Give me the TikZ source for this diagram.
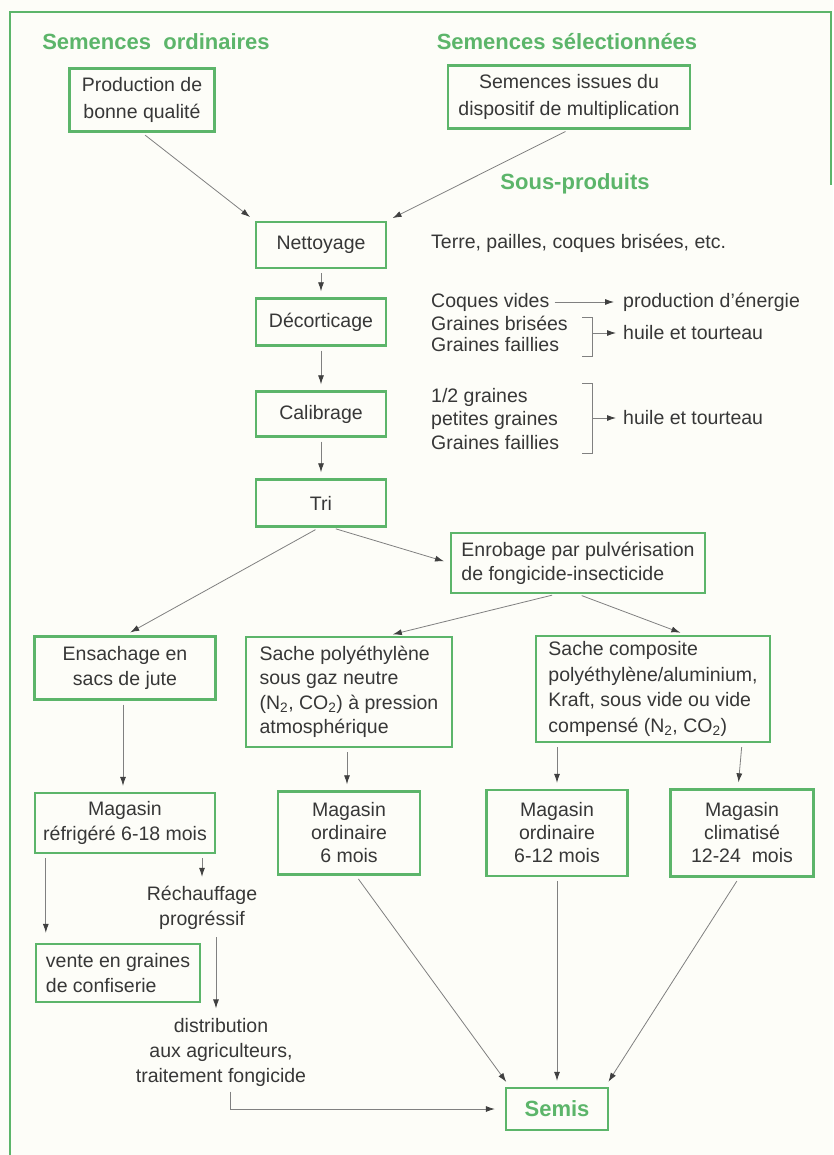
\documentclass[tikz,border=0pt]{standalone}
\usepackage{fontspec}
\setmainfont{Liberation Sans}
\usepackage{xcolor}
\usetikzlibrary{arrows.meta, positioning}

\definecolor{leaf}{RGB}{92,181,106}
\definecolor{ink}{RGB}{55,55,55}
\definecolor{paper}{RGB}{253,253,248}

\begin{document}
\begin{tikzpicture}[
  x=1pt, y=-1pt,
  font=\fontsize{19.5}{23}\selectfont, text=ink,
  box/.style={draw=leaf, line width=2.4pt, inner sep=0pt, align=center},
  title/.style={text=leaf, font=\fontsize{22}{26}\selectfont\bfseries},
  list/.style={anchor=west, align=left, inner sep=1pt},
  edge/.style={-{Latex[length=9pt,width=6pt,color=black!75]}, gray, line width=0.8pt,
    shorten <=4pt, shorten >=6pt},
  brace/.style={gray, line width=0.8pt}
]
% page and frame
\fill[paper] (0,0) rectangle (833,1155);
\useasboundingbox (0,0) rectangle (833,1155);
\draw[leaf, line width=2pt] (831,185) -- (831,12) -- (10,12) -- (10,1155);

% titles
\node[title] (ord) at (156,42) {Semences\ \ ordinaires};
\node[title] (sel) at (567,42) {Semences sélectionnées};
\node[title] (sous) at (575,184) {Sous-produits};

% seed sources
\node[box, minimum width=145pt, minimum height=63pt,
  font=\fontsize{19.5}{27}\selectfont] (prod) at (142,100) {Production de\\bonne qualité};
\node[box, minimum width=242pt, minimum height=63pt,
  font=\fontsize{19.5}{27}\selectfont] (mult) at (569,97) {Semences issues du\\dispositif de multiplication};

% main chain
\node[box, minimum width=130pt, minimum height=46pt] (nett) at (321,245) {Nettoyage};
\node[box, minimum width=130pt, minimum height=47pt] (deco) at (321,322) {Décorticage};
\node[box, minimum width=130pt, minimum height=45pt] (cali) at (321,414) {Calibrage};
\node[box, minimum width=130pt, minimum height=47pt] (tri) at (321,503) {Tri};

% by-products
\node[list] (terre) at (430,243) {Terre, pailles, coques brisées, etc.};
\node[list] (coq) at (430,302) {Coques vides};
\node[list] (ener) at (622,302) {production d'énergie};
\node[list, font=\fontsize{19.5}{21.5}\selectfont] (gra) at (430,334) {Graines brisées\\Graines faillies};
\node[list] (huile) at (622,333) {huile et tourteau};
\node[list, font=\fontsize{19.5}{23.5}\selectfont] (demi) at (430,419) {1/2 graines\\petites graines\\Graines faillies};
\node[list] (huile2) at (622,418) {huile et tourteau};
\coordinate (br1) at (592,333);
\coordinate (br2) at (592,418);

% coating and packaging
\node[box, minimum width=254pt, minimum height=60pt, align=left,
  font=\fontsize{19.5}{24}\selectfont] (enro) at (578,563)
  {Enrobage par pulvérisation\\de fongicide-insecticide};
\node[box, minimum width=181pt, minimum height=63pt,
  font=\fontsize{19.5}{25}\selectfont] (jute) at (125,668) {Ensachage en\\sacs de jute};
\node[box, minimum width=206pt, minimum height=110pt, align=left,
  font=\fontsize{19.5}{24.5}\selectfont] (poly) at (349,692)
  {Sache polyéthylène\\sous gaz neutre\\(N\textsubscript{2}, CO\textsubscript{2}) à pression\\atmosphérique};
\node[box, minimum width=234pt, minimum height=106pt, align=left,
  font=\fontsize{19.5}{25.5}\selectfont] (comp) at (653,689)
  {Sache composite\\polyéthylène/aluminium,\\Kraft, sous vide ou vide\\compensé (N\textsubscript{2}, CO\textsubscript{2})};

% stores
\node[box, minimum width=180pt, minimum height=60pt,
  font=\fontsize{19.5}{25}\selectfont] (refr) at (125,823) {Magasin\\réfrigéré 6-18 mois};
\node[box, minimum width=142pt, minimum height=83pt] (ord6) at (349,833) {Magasin\\ordinaire\\6 mois};
\node[box, minimum width=141pt, minimum height=86pt] (ord12) at (557,833) {Magasin\\ordinaire\\6-12 mois};
\node[box, minimum width=143pt, minimum height=87pt] (clim) at (742,833) {Magasin\\climatisé\\12-24\ \ mois};

% end uses
\node[align=center, font=\fontsize{19.5}{25}\selectfont] (rech) at (202,908) {Réchauffage\\progréssif};
\node[box, minimum width=164pt, minimum height=58pt, align=left,
  font=\fontsize{19.5}{25}\selectfont] (vente) at (118,973) {vente en graines\\de confiserie};
\node[align=center, font=\fontsize{19.5}{25}\selectfont] (dist) at (221,1052)
  {distribution\\aux agriculteurs,\\traitement fongicide};
\node[box, minimum width=102pt, minimum height=42pt, title] (semis) at (557,1109) {Semis};

% arrows
\draw[edge] (prod.south) -- (nett.north west);
\draw[edge] (mult.south) -- (nett.north east);
\draw[edge] (nett) -- (deco);
\draw[edge] (deco) -- (cali);
\draw[edge] (cali) -- (tri);
\draw[edge] ([xshift=-2pt]tri.south) -- (jute.north);
\draw[edge] ([xshift=11pt]tri.south) -- (enro.west);
\draw[edge] ([xshift=-22pt]enro.south) -- ([xshift=38pt]poly.north);
\draw[edge] (enro.south) -- ([xshift=33pt]comp.north);

\draw[edge, shorten >=8pt] (coq.east) -- (ener.west);
\draw[brace] (582,317) -| (br1 |- 0,356) -- (582,356);
\draw[edge, shorten <=0pt] (br1) -- (huile.west);
\draw[brace] (582,383) -| (br2 |- 0,453) -- (582,453);
\draw[edge, shorten <=0pt] (br2) -- (huile2.west);

\draw[edge] ([xshift=-2pt]jute.south) -- ([xshift=-2pt]refr.north);
\draw[edge] ([xshift=-2pt]poly.south) -- ([xshift=-2pt]ord6.north);
\draw[edge] (comp.south -| ord12.north) -- (ord12.north);
\draw[edge] (comp.south -| clim.north) -- ([xshift=-4pt]clim.north);

\draw[edge, shorten >=10pt] ([xshift=12pt]refr.south west) -- ([xshift=11pt]vente.north west);
\draw[edge] (refr.south -| rech.north) -- (rech.north);
\draw[edge] ([xshift=14pt]rech.south) -- ([xshift=-5pt]dist.north);
\draw[edge, shorten <=2pt, shorten >=10pt] ([xshift=9pt]dist.south) |- (semis.west);
\draw[edge] ([xshift=7pt]ord6.south) -- ([xshift=5pt]semis.north west);
\draw[edge] (ord12.south) -- (semis.north);
\draw[edge] ([xshift=-3pt]clim.south) -- ([xshift=-4pt]semis.north east);
\end{tikzpicture}
\end{document}
